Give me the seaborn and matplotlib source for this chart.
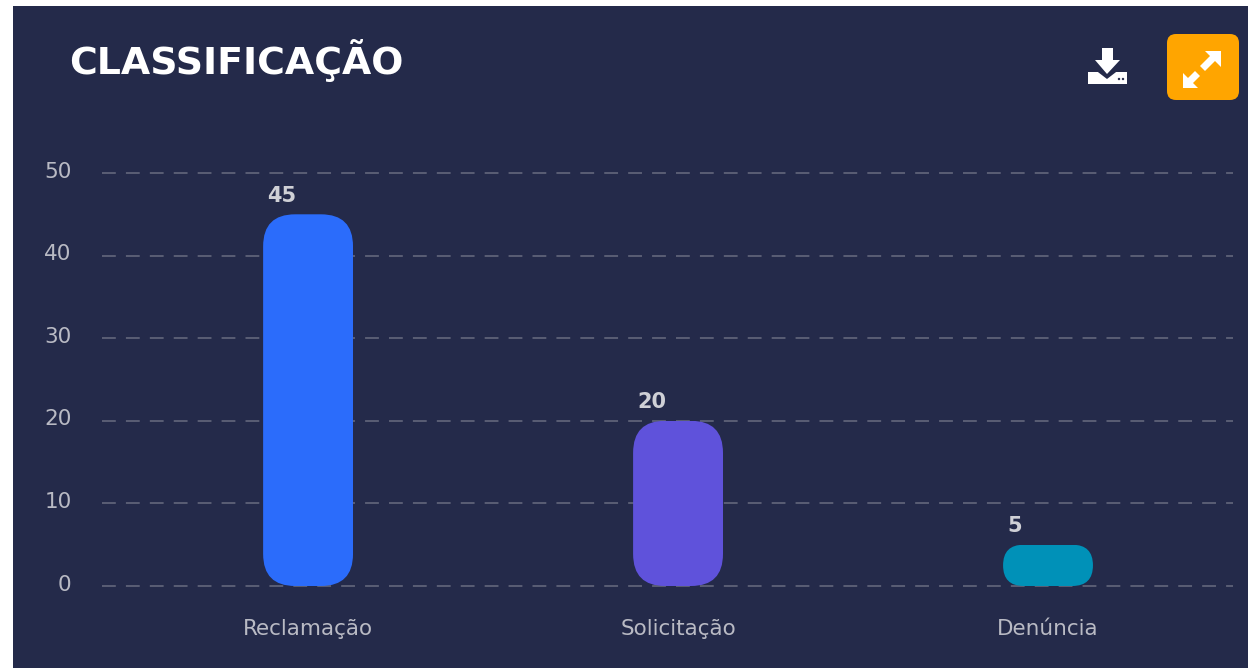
import matplotlib
matplotlib.use("Agg")
import matplotlib.pyplot as plt
import seaborn as sns
from matplotlib.patches import FancyBboxPatch, Rectangle, Polygon, Circle
from matplotlib.transforms import Affine2D, ScaledTranslation

categories = ["Reclamação", "Solicitação", "Denúncia"]
values = [45, 20, 5]
bar_colors = ["#2B6CFB", "#5F52DB", "#0091B8"]
y_ticks = [0, 10, 20, 30, 40, 50]
title = "CLASSIFICAÇÃO"

BG = "#242A4A"
W, H = 1248, 668
sns.set_theme(style="white")
plt.rcParams["font.family"] = ["DejaVu Sans"]

fig = plt.figure(figsize=(W / 100, H / 100), dpi=100, facecolor="white")
px = Affine2D().scale(1, -1).translate(0, H)  # pixel coords, origin top-left

fig.patches.append(Rectangle((13, 6), W - 13, H - 6, transform=px, fc=BG, ec="none", zorder=-5))

ax = fig.add_axes([102 / W, 1 - 586 / H, (1233 - 102) / W, (586 - 173) / H])
ax.patch.set_alpha(0)
sns.barplot(x=categories, y=values, hue=categories, palette=bar_colors, legend=False,
            width=0.243, saturation=1, ax=ax, zorder=3, edgecolor="none", linewidth=0)
ax.set_xlim(-0.557, 2.5)
ax.set_ylim(0, 50)
ax.set_yticks(y_ticks)
for s in ax.spines.values():
    s.set_visible(False)
ax.grid(False)
for v in y_ticks:
    ax.plot([0, 1], [v, v], transform=ax.get_yaxis_transform(), color="#5A5E75", lw=1.4,
            dashes=(7.1, 5.2), dash_capstyle="butt", clip_on=False, zorder=1)
ax.tick_params(axis="both", length=0, labelsize=15.5, labelcolor="#B9BAC4")
ax.tick_params(axis="y", pad=22)
ax.tick_params(axis="x", pad=24)
shift_up = ScaledTranslation(0, 2.5 / 72, fig.dpi_scale_trans)
for t in ax.get_yticklabels():
    t.set_transform(t.get_transform() + shift_up)

# rounded corners: clip every seaborn bar to a rounded box in display space
fig.canvas.draw()
for bar, v in zip(ax.patches, values):
    x0, y0 = ax.transData.transform((bar.get_x(), 0))
    x1, y1 = ax.transData.transform((bar.get_x() + bar.get_width(), bar.get_height()))
    r = min(32, (y1 - y0) / 2)
    clip = FancyBboxPatch((x0 + r, y0 + r), x1 - x0 - 2 * r, y1 - y0 - 2 * r,
                          boxstyle=f"round,pad={r},rounding_size={r}",
                          transform=None, fc="none", ec="none")
    bar.set_clip_path(clip)
    ax.annotate(str(v), (bar.get_x(), v), xytext=(3, 6), textcoords="offset points",
                ha="left", va="bottom", color="#CFD0D6", fontsize=15, fontweight="bold")

fig.text(69.5, 74.5, title, transform=px, color="white", fontsize=27.3, fontweight="bold",
         ha="left", va="baseline")


def poly(points, color):
    fig.patches.append(Polygon(points, closed=True, transform=px, fc=color, ec="none"))


# expand button
fig.patches.append(FancyBboxPatch((1176, 43), 54, 48, boxstyle="round,pad=9,rounding_size=9",
                                  transform=px, fc="#FFA500", ec="none"))
poly([(1205, 51), (1221, 51), (1221, 67), (1215, 61), (1205, 71), (1200, 66), (1210, 56)], "white")
poly([(1183, 88), (1183, 73), (1188, 78), (1195, 71), (1200, 76), (1193, 83), (1198, 88)], "white")

# download icon
poly([(1088, 72), (1127, 72), (1127, 84), (1088, 84)], "white")
poly([(1094, 69), (1120, 69), (1107, 79)], BG)
poly([(1102, 48), (1113, 48), (1113, 60), (1120, 60), (1107, 74), (1095, 60), (1102, 60)], "white")
for cx in (1119, 1123):
    fig.patches.append(Circle((cx, 79), 1.2, transform=px, fc=BG, ec="none"))

fig.savefig("out.png", dpi=100, facecolor="white")
